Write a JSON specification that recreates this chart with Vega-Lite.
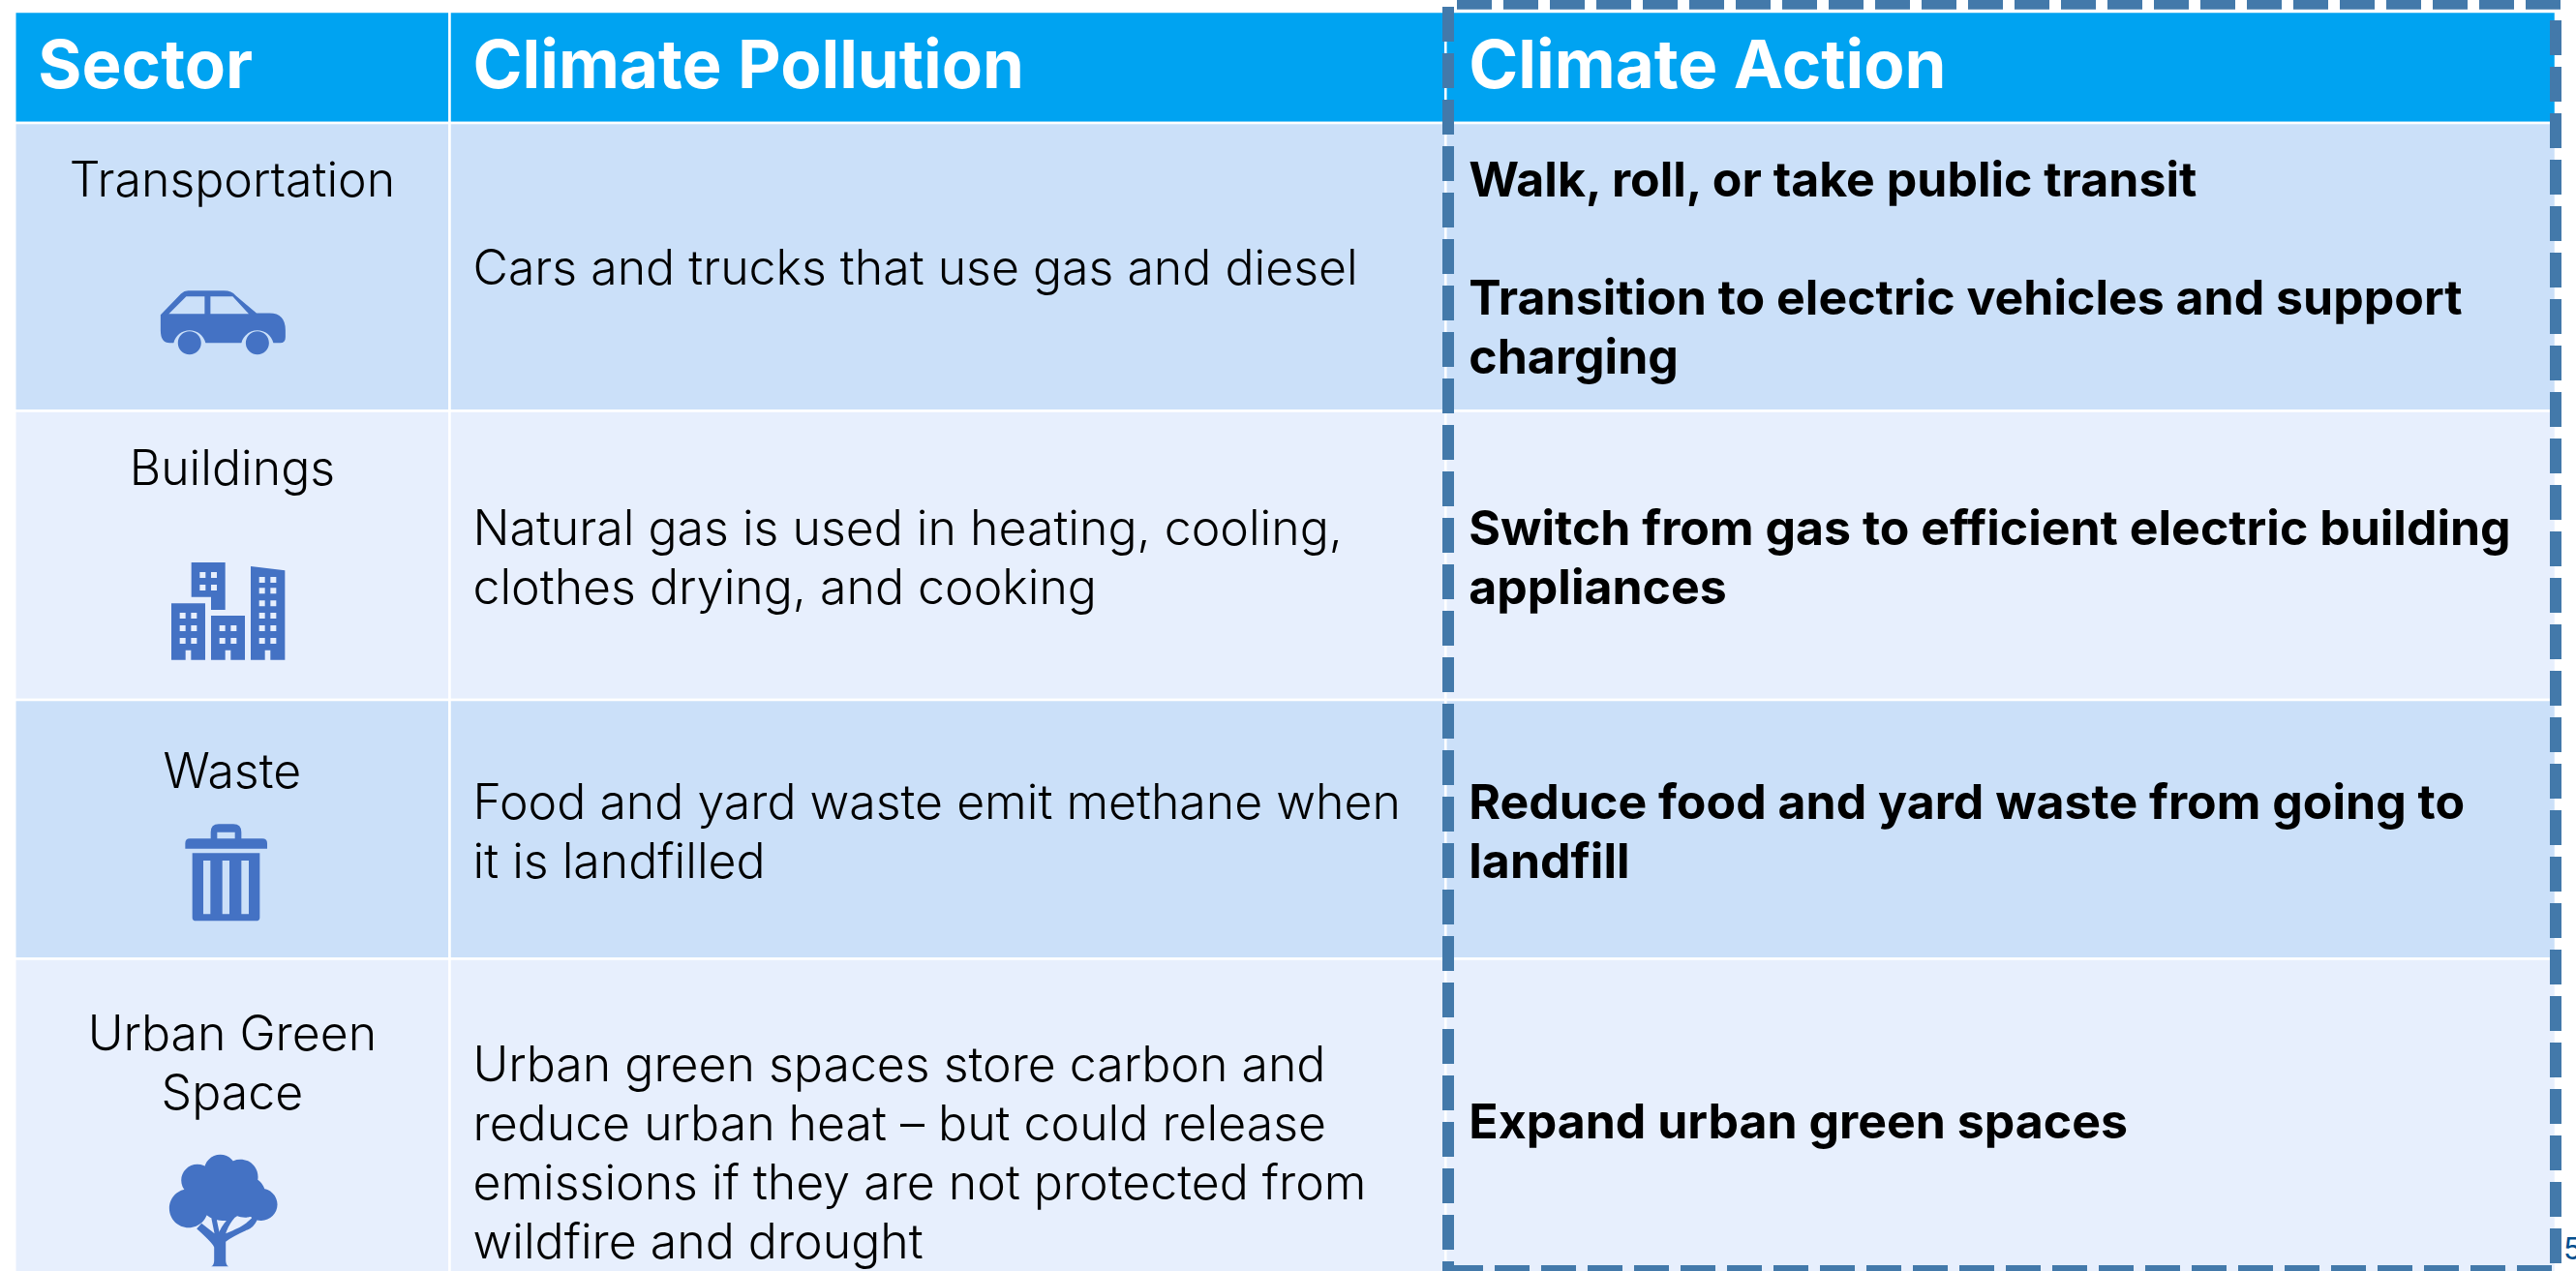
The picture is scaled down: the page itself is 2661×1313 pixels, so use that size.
{
"$schema":"https://vega.github.io/schema/vega-lite/v6.json",
"width":2661,"height":1313,"autosize":{"type":"none"},"padding":0,
"background":"white",
"config":{"view":{"stroke":null},"axis":{"disable":true}},
"datasets":{
"cells":[
{"row":0,"rowEnd":1,"rowMid":0.5,"col":0,"colEnd":1,"colMid":0.5,"band":"header","lines":1,"text":"Sector"},
{"row":0,"rowEnd":1,"rowMid":0.5,"col":1,"colEnd":2,"colMid":1.5,"band":"header","lines":1,"text":"Climate Pollution"},
{"row":0,"rowEnd":1,"rowMid":0.5,"col":2,"colEnd":3,"colMid":2.5,"band":"header","lines":1,"text":"Climate Action"},
{"row":1,"rowEnd":2,"rowMid":1.5,"col":0,"colEnd":1,"colMid":0.5,"band":"dark","lines":1,"text":"Transportation"},
{"row":1,"rowEnd":2,"rowMid":1.5,"col":1,"colEnd":2,"colMid":1.5,"band":"dark","lines":1,"text":"Cars and trucks that use gas and diesel"},
{"row":1,"rowEnd":2,"rowMid":1.5,"col":2,"colEnd":3,"colMid":2.5,"band":"dark","lines":4,"text":"Walk, roll, or take public transit"},
{"row":2,"rowEnd":3,"rowMid":2.5,"col":0,"colEnd":1,"colMid":0.5,"band":"light","lines":1,"text":"Buildings"},
{"row":2,"rowEnd":3,"rowMid":2.5,"col":1,"colEnd":2,"colMid":1.5,"band":"light","lines":2,"text":"Natural gas is used in heating, cooling,\nclothes drying, and cooking"},
{"row":2,"rowEnd":3,"rowMid":2.5,"col":2,"colEnd":3,"colMid":2.5,"band":"light","lines":2,"text":"Switch from gas to efficient electric building\nappliances"},
{"row":3,"rowEnd":4,"rowMid":3.5,"col":0,"colEnd":1,"colMid":0.5,"band":"dark","lines":1,"text":"Waste"},
{"row":3,"rowEnd":4,"rowMid":3.5,"col":1,"colEnd":2,"colMid":1.5,"band":"dark","lines":2,"text":"Food and yard waste emit methane when\nit is landfilled"},
{"row":3,"rowEnd":4,"rowMid":3.5,"col":2,"colEnd":3,"colMid":2.5,"band":"dark","lines":2,"text":"Reduce food and yard waste from going to\nlandfill"},
{"row":4,"rowEnd":5,"rowMid":4.5,"col":0,"colEnd":1,"colMid":0.5,"band":"light","lines":2,"text":"Urban Green\nSpace"},
{"row":4,"rowEnd":5,"rowMid":4.5,"col":1,"colEnd":2,"colMid":1.5,"band":"light","lines":4,"text":"Urban green spaces store carbon and\nreduce urban heat – but could release\nemissions if they are not protected from\nwildfire and drought"},
{"row":4,"rowEnd":5,"rowMid":4.5,"col":2,"colEnd":3,"colMid":2.5,"band":"light","lines":1,"text":"Expand urban green spaces"}
],
"second":[{"rowMid":1.5,"col":2,"text":"Transition to electric vehicles and support\ncharging"}],
"frame":[{"left":2,"right":3,"top":0,"bottom":5,"page":"5"}]
},
"data":{"name":"cells"},
"encoding":{
"x":{"field":"col","type":"quantitative","axis":null,"scale":{"domain":[0,1,2,3],"range":[15.25,464.5,1493.3,2640],"nice":false,"zero":false}},
"y":{"field":"rowMid","type":"quantitative","axis":null,"scale":{"domain":[0,1,2,3,4,5],"range":[12,127,424.5,723,990.6,1320],"nice":false,"zero":false}}
},
"layer":[
{"mark":{"type":"rect","stroke":"white","strokeWidth":2.5},
 "encoding":{"x2":{"field":"colEnd"},"y":{"field":"row","type":"quantitative"},"y2":{"field":"rowEnd"},
 "fill":{"field":"band","type":"nominal","legend":null,"scale":{"domain":["header","dark","light"],"range":["#00A3F1","#CBE0F9","#E7EFFD"]}}}},
{"data":{"name":"frame"},"mark":{"type":"rule","color":"white","strokeWidth":8},
 "encoding":{"x":{"datum":0},"x2":{"datum":3},"y":{"datum":1}}},
{"transform":[{"filter":"datum.row==0"}],
 "mark":{"type":"text","align":"left","baseline":"middle","dx":24,"font":"Inter","fontWeight":700,"fontSize":69,"color":"white"},
 "encoding":{"text":{"field":"text"}}},
{"transform":[{"filter":"datum.col==1&&datum.row>0&&datum.lines==1"}],
 "mark":{"type":"text","align":"left","baseline":"middle","dx":24,"dy":3,"font":"Inter","fontWeight":300,"fontSize":50,"lineBreak":"\n","lineHeight":61,"color":"black"},
 "encoding":{"text":{"field":"text"}}},
{"transform":[{"filter":"datum.col==1&&datum.lines==2"}],
 "mark":{"type":"text","align":"left","baseline":"middle","dx":24,"dy":-26,"font":"Inter","fontWeight":300,"fontSize":50,"lineBreak":"\n","lineHeight":61,"color":"black"},
 "encoding":{"text":{"field":"text"}}},
{"transform":[{"filter":"datum.col==1&&datum.lines==4"}],
 "mark":{"type":"text","align":"left","baseline":"middle","dx":24,"dy":-53,"font":"Inter","fontWeight":300,"fontSize":50,"lineBreak":"\n","lineHeight":61,"color":"black"},
 "encoding":{"text":{"field":"text"}}},
{"transform":[{"filter":"datum.col==2&&datum.row>0&&datum.lines==1"}],
 "mark":{"type":"text","align":"left","baseline":"middle","dx":24,"dy":6,"font":"Inter","fontWeight":700,"fontSize":50,"lineBreak":"\n","lineHeight":61,"color":"black"},
 "encoding":{"text":{"field":"text"}}},
{"transform":[{"filter":"datum.col==2&&datum.lines==2"}],
 "mark":{"type":"text","align":"left","baseline":"middle","dx":24,"dy":-26,"font":"Inter","fontWeight":700,"fontSize":50,"lineBreak":"\n","lineHeight":61,"color":"black"},
 "encoding":{"text":{"field":"text"}}},
{"transform":[{"filter":"datum.col==2&&datum.lines==4"}],
 "mark":{"type":"text","align":"left","baseline":"middle","dx":24,"dy":-88,"font":"Inter","fontWeight":700,"fontSize":50,"lineBreak":"\n","lineHeight":61,"color":"black"},
 "encoding":{"text":{"field":"text"}}},
{"data":{"name":"second"},
 "mark":{"type":"text","align":"left","baseline":"middle","dx":24,"dy":34,"font":"Inter","fontWeight":700,"fontSize":50,"lineBreak":"\n","lineHeight":61,"color":"black"},
 "encoding":{"text":{"field":"text"}}},
{"transform":[{"filter":"datum.col==0&&datum.row==1"}],
 "mark":{"type":"text","align":"center","baseline":"middle","dy":-88,"font":"Inter","fontWeight":300,"fontSize":50,"color":"black"},
 "encoding":{"x":{"field":"colMid","type":"quantitative"},"text":{"field":"text"}}},
{"transform":[{"filter":"datum.col==0&&datum.row==2"}],
 "mark":{"type":"text","align":"center","baseline":"middle","dy":-88,"font":"Inter","fontWeight":300,"fontSize":50,"color":"black"},
 "encoding":{"x":{"field":"colMid","type":"quantitative"},"text":{"field":"text"}}},
{"transform":[{"filter":"datum.col==0&&datum.row==3"}],
 "mark":{"type":"text","align":"center","baseline":"middle","dy":-58,"font":"Inter","fontWeight":300,"fontSize":50,"color":"black"},
 "encoding":{"x":{"field":"colMid","type":"quantitative"},"text":{"field":"text"}}},
{"transform":[{"filter":"datum.col==0&&datum.row==4"}],
 "mark":{"type":"text","align":"center","baseline":"middle","dy":-85,"font":"Inter","fontWeight":300,"fontSize":50,"lineBreak":"\n","lineHeight":61,"color":"black"},
 "encoding":{"x":{"field":"colMid","type":"quantitative"},"text":{"field":"text"}}},
{"transform":[{"filter":"datum.col==0&&datum.row==1"}],
 "mark":{"type":"point","filled":true,"opacity":1,"fill":"#4472C4","strokeWidth":0,"size":4,"xOffset":-9.5,"yOffset":57.5,
 "shape":"M-64.5 -8 L-43.5 -29.7 Q-40 -33 -36 -33 L1 -33 Q9 -33 13 -28 L34.6 -9.7 L48 -9.7 Q64.5 -9.7 64.5 8 L64.5 15 Q64.5 21 59 21 L52 21 A17 17 0 0 0 19 21 L-18 21 A17 17 0 0 0 -51 21 L-55 21 Q-64.5 21 -64.5 8 Z M-56 -9 L-19 -9 L-19 -27 L-38 -27 Z M-13 -27 L-13 -9 L26.6 -9 L10 -27 Z M-46.6 21 a12 12 0 1 0 24 0 a12 12 0 1 0 -24 0 Z M23.5 21 a12 12 0 1 0 24 0 a12 12 0 1 0 -24 0 Z"},
 "encoding":{"x":{"field":"colMid","type":"quantitative"}}},
{"transform":[{"filter":"datum.col==0&&datum.row==2"}],
 "mark":{"type":"point","filled":true,"opacity":1,"fill":"#4472C4","strokeWidth":0,"size":0.4444,"xOffset":-4.2,"yOffset":57.6,
 "shape":"M-114 -151 L-9 -151 L-9 -4 L-53 -4 L-53 -44 L-114 -44 Z M-88 -121 v18 h18 v-18 z M-53 -121 v18 h18 v-18 z M-88 -82 v18 h18 v-18 z M-53 -82 v18 h18 v-18 z M-176 -24 L-71 -24 L-71 151 L-115 151 L-115 121 L-132 121 L-132 151 L-176 151 Z M-150 5 v18 h18 v-18 z M-115 5 v18 h18 v-18 z M-150 44 v18 h18 v-18 z M-115 44 v18 h18 v-18 z M-150 83 v18 h18 v-18 z M-115 83 v18 h18 v-18 z M-53 14 L52 14 L52 151 L8 151 L8 121 L-9 121 L-9 151 L-53 151 Z M-27 44 v18 h18 v-18 z M8 44 v18 h18 v-18 z M-27 83 v18 h18 v-18 z M8 83 v18 h18 v-18 z M70 -139 L176 -126 L176 151 L131 151 L131 121 L114 121 L114 151 L70 151 Z M96 -106 v18 h18 v-18 z M131 -106 v18 h18 v-18 z M96 -72 v18 h18 v-18 z M131 -72 v18 h18 v-18 z M96 -33 v18 h18 v-18 z M131 -33 v18 h18 v-18 z M96 5 v18 h18 v-18 z M131 5 v18 h18 v-18 z M96 44 v18 h18 v-18 z M131 44 v18 h18 v-18 z M96 83 v18 h18 v-18 z M131 83 v18 h18 v-18 z"},
 "encoding":{"x":{"field":"colMid","type":"quantitative"}}},
{"transform":[{"filter":"datum.col==0&&datum.row==3"}],
 "mark":{"type":"point","filled":true,"opacity":1,"fill":"#4472C4","strokeWidth":0,"size":0.4444,"xOffset":-6.2,"yOffset":44.5,
 "shape":"M-48 -105 L-48 -125 Q-48 -150 -23 -150 L22 -150 Q47 -150 47 -125 L47 -105 L27 -105 L27 -125 L-28 -125 L-28 -105 Z M-113 -105 L112 -105 Q127 -105 127 -90 L127 -74 L-127 -74 L-127 -90 Q-127 -105 -113 -105 Z M-105 -60 L104 -60 L104 140 Q104 150 92 150 L-93 150 Q-105 150 -105 140 Z M-71 -37 v166 h22 v-166 z M-12 -37 v166 h22 v-166 z M47 -37 v166 h23 v-166 z"},
 "encoding":{"x":{"field":"colMid","type":"quantitative"}}},
{"transform":[{"filter":"datum.col==0&&datum.row==4"}],
 "mark":{"type":"point","filled":true,"opacity":1,"fill":"#4472C4","strokeWidth":0,"size":0.4444,"xOffset":-9,"yOffset":95,
 "shape":"M-60 -123 a50 50 0 1 1 100 0 a50 50 0 1 1 -100 0 Z M-131 -93 a50 50 0 1 1 100 0 a50 50 0 1 1 -100 0 Z M-3 -103 a55 55 0 1 1 110 0 a55 55 0 1 1 -110 0 Z M-168 -6 a60 60 0 1 1 120 0 a60 60 0 1 1 -120 0 Z M67 -18 a50 50 0 1 1 100 0 a50 50 0 1 1 -100 0 Z M-83 -48 a80 80 0 1 1 160 0 a80 80 0 1 1 -160 0 Z M2 -43 a65 65 0 1 1 130 0 a65 65 0 1 1 -130 0 Z M-38 174 Q-29 170 -29 155 L-29 115 Q-30 105 -83 57 L-68 40 Q-40 62 -28 72 L-38 22 L-23 20 L-13 67 Q-5 45 27 12 L37 20 Q15 45 7 72 Q50 55 67 42 Q85 30 97 12 L107 22 Q100 45 82 57 Q30 80 7 97 L7 155 Q7 170 16 174 Z"},
 "encoding":{"x":{"field":"colMid","type":"quantitative"}}},
{"data":{"name":"frame"},"mark":{"type":"rule","color":"#4379AA","strokeWidth":12,"strokeDash":[36,12],"strokeCap":"butt","xOffset":11.7,"x2Offset":6,"yOffset":-8.3},
 "encoding":{"x":{"field":"left","type":"quantitative"},"x2":{"field":"right"},"y":{"field":"top","type":"quantitative"}}},
{"data":{"name":"frame"},"mark":{"type":"rule","color":"#4379AA","strokeWidth":12,"strokeDash":[36,12],"strokeCap":"butt","yOffset":9,"y2Offset":-15},
 "encoding":{"x":{"field":"right","type":"quantitative"},"y":{"field":"top","type":"quantitative"},"y2":{"field":"bottom"}}},
{"data":{"name":"frame"},"mark":{"type":"rule","color":"#4379AA","strokeWidth":12,"strokeDash":[36,12],"strokeCap":"butt","xOffset":2.7,"yOffset":-5},
 "encoding":{"x":{"field":"left","type":"quantitative"},"y":{"field":"top","type":"quantitative"},"y2":{"field":"bottom"}}},
{"data":{"name":"frame"},"mark":{"type":"rule","color":"#4379AA","strokeWidth":12,"strokeDash":[36,12],"strokeCap":"butt","xOffset":2.7,"yOffset":-7},
 "encoding":{"x":{"field":"left","type":"quantitative"},"x2":{"field":"right"},"y":{"field":"bottom","type":"quantitative"}}},
{"data":{"name":"frame"},"mark":{"type":"text","align":"left","baseline":"alphabetic","dx":8,"dy":-19,"font":"Inter","fontSize":31,"color":"#024F8F"},
 "encoding":{"x":{"field":"right","type":"quantitative"},"y":{"field":"bottom","type":"quantitative"},"text":{"field":"page"}}}
]
}
